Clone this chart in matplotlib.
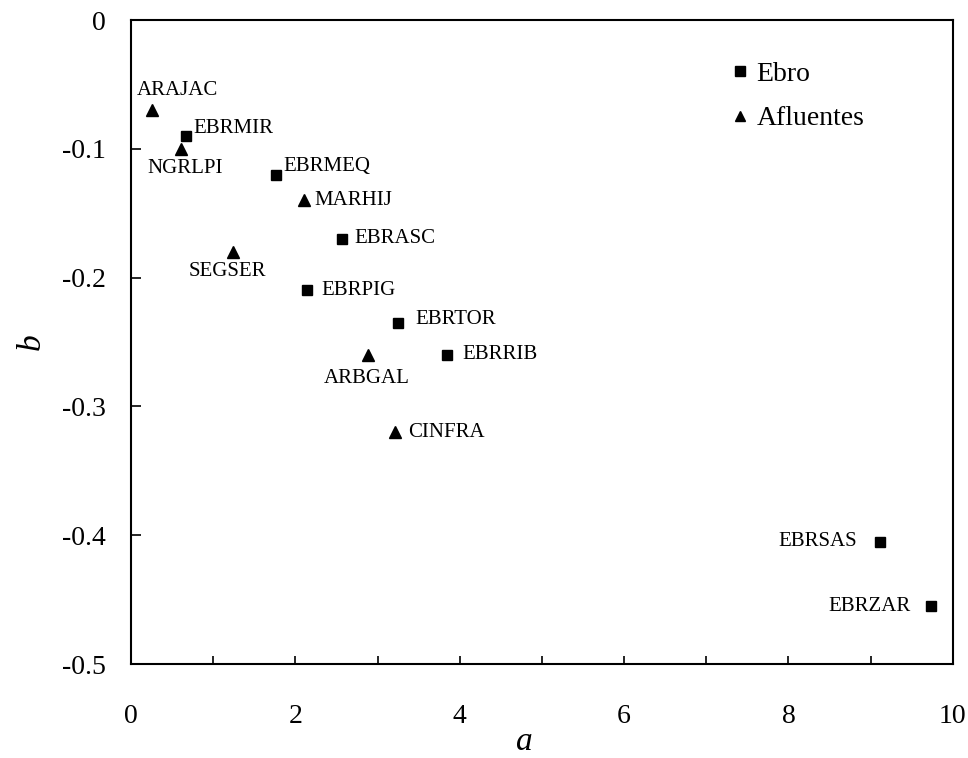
import matplotlib
matplotlib.use("Agg")
import matplotlib.pyplot as plt
from matplotlib.lines import Line2D

plt.rcParams["font.family"] = ["Liberation Serif", "DejaVu Serif"]

# Ebro main-channel stations
ebro_names = ["EBRMIR", "EBRMEQ", "EBRASC", "EBRPIG", "EBRTOR", "EBRRIB", "EBRSAS", "EBRZAR"]
ebro_a = [0.67, 1.76, 2.57, 2.14, 3.25, 3.84, 9.12, 9.74]
ebro_b = [-0.09, -0.12, -0.17, -0.21, -0.235, -0.26, -0.405, -0.455]

# Tributary stations
afl_names = ["ARAJAC", "NGRLPI", "MARHIJ", "SEGSER", "ARBGAL", "CINFRA"]
afl_a = [0.26, 0.61, 2.10, 1.24, 2.88, 3.21]
afl_b = [-0.07, -0.10, -0.14, -0.18, -0.26, -0.32]

x_ticks = [0, 2, 4, 6, 8, 10]
x_minor = [1, 3, 5, 7, 9]
y_ticks = [0, -0.1, -0.2, -0.3, -0.4, -0.5]
y_tick_labels = ["0", "-0.1", "-0.2", "-0.3", "-0.4", "-0.5"]

# label placement: (dx px, dy px, horizontal alignment)
label_pos = {
    "ARAJAC": (25, 20, "center"),
    "EBRMIR": (7, 7, "left"),
    "NGRLPI": (4, -20, "center"),
    "EBRMEQ": (8, 8, "left"),
    "MARHIJ": (11, 0, "left"),
    "EBRASC": (12, 0, "left"),
    "SEGSER": (-6, -20, "center"),
    "EBRPIG": (15, 0, "left"),
    "EBRTOR": (17, 3, "left"),
    "EBRRIB": (16, 0, "left"),
    "ARBGAL": (-1, -24, "center"),
    "CINFRA": (13, 0, "left"),
    "EBRSAS": (-23, 0, "right"),
    "EBRZAR": (-21, 0, "right"),
}

fig = plt.figure(figsize=(9.68, 7.58), dpi=100)
ax = fig.add_axes([0.1353, 0.124, 0.849, 0.8496])

ax.plot(ebro_a, ebro_b, linestyle="none", marker="s", ms=7, color="black")
ax.plot(afl_a, afl_b, linestyle="none", marker="^", ms=8, color="black")

px = 0.72  # points per pixel at 100 dpi
for names, xs, ys in ((ebro_names, ebro_a, ebro_b), (afl_names, afl_a, afl_b)):
    for n, xv, yv in zip(names, xs, ys):
        dx, dy, ha = label_pos[n]
        ax.annotate(n, (xv, yv), xytext=(dx * px, dy * px), textcoords="offset points",
                    ha=ha, va="center", fontsize=15)

ax.set_xlim(0, 10)
ax.set_ylim(-0.5, 0)
ax.set_xticks(x_ticks)
ax.set_xticklabels([str(t) for t in x_ticks])
ax.set_xticks(x_minor, minor=True)
ax.set_yticks(y_ticks)
ax.set_yticklabels(y_tick_labels)

ax.tick_params(axis="x", which="both", direction="in", length=6, width=1.2,
               labelsize=20, pad=29, top=False)
ax.tick_params(axis="y", direction="in", length=7, width=1.2,
               labelsize=20, pad=18, right=False)
for s in ax.spines.values():
    s.set_linewidth(1.5)

ax.set_xlabel("a", fontsize=24, style="italic")
ax.xaxis.set_label_coords(0.479, -0.097)
ax.set_ylabel("b", fontsize=24, style="italic", labelpad=11)

handles = [
    Line2D([], [], linestyle="none", marker="s", ms=6.5, color="black", label="Ebro"),
    Line2D([], [], linestyle="none", marker="^", ms=7.5, color="black", label="Afluentes"),
]
ax.legend(handles=handles, loc="upper left", bbox_to_anchor=(0.697, 0.975), frameon=False,
          fontsize=20, handlelength=0.8, handletextpad=0.2, labelspacing=0.7)

fig.savefig("out.png", dpi=100)
